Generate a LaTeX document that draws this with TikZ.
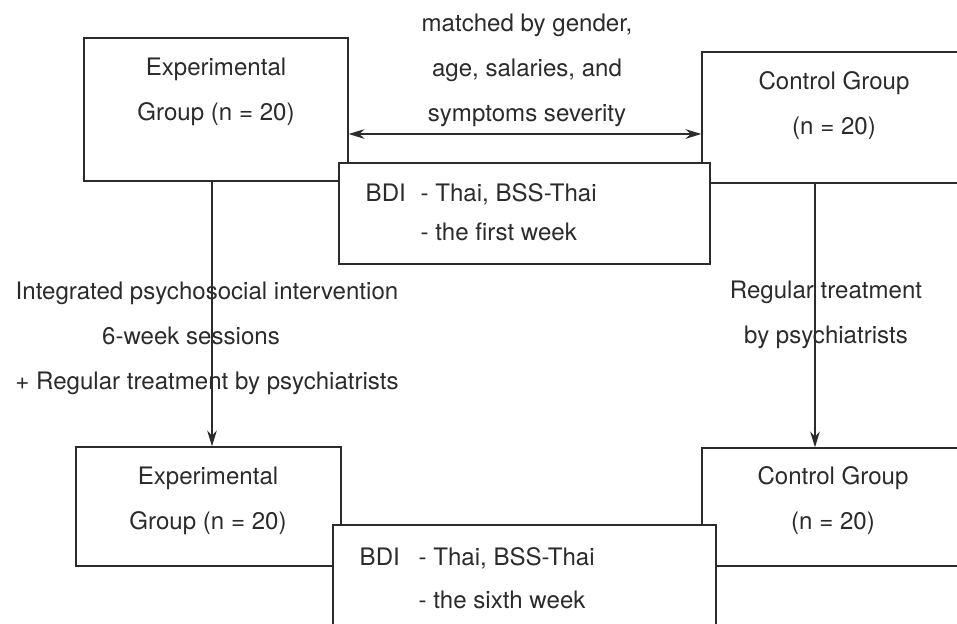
\documentclass[tikz,border=0pt]{standalone}
\usepackage{fontspec}
\setmainfont{TeX Gyre Heros}
\usetikzlibrary{arrows.meta}
\definecolor{ink}{HTML}{2B2B2B}

\begin{document}
\begin{tikzpicture}[x = 0.02cm, y = -0.02cm, > = {Stealth[length = 9pt, width = 5.5pt]}, line width = 0.8pt, color = ink,
	font = \fontsize{13.7}{25.6}\selectfont,
	group/.style = {draw, minimum width = 5.28cm, inner sep = 0pt},
	bdi/.style = {draw, fill = white, inner sep = 0pt},
	label/.style = {align = center, inner sep = 0pt},
	bdilist/.style = {align = left, anchor = west, inner sep = 0pt, font = \fontsize{13.7}{#1}\selectfont}]

	% Frame

	\useasboundingbox (0, 0) rectangle (957, 623);
	\clip (0, 0) rectangle (957, 623);

	% Group boxes

	\node [group, minimum height = 2.86cm] (expTop) at (216, 109.5) {};
	\node [group, minimum height = 2.62cm] (ctrlTop) at (834, 117.5) {};
	\node [group, minimum width = 5.3cm, minimum height = 2.38cm] (expBot) at (208.5, 506.5) {};
	\node [group, minimum height = 2.36cm] (ctrlBot) at (834, 507) {};

	\node [label] (expTopTxt) at (216, 92) {Experimental\\Group (n = 20)};
	\node [label] (ctrlTopTxt) at (834, 105.5) {Control Group\\(n = 20)};
	\node [label] (expBotTxt) at (208, 500.5) {Experimental\\Group (n = 20)};
	\node [label] (ctrlBotTxt) at (833, 500.5) {Control Group\\(n = 20)};

	% Matching and treatment paths

	\coordinate (expX) at (212, 0);
	\coordinate (ctrlX) at (815, 0);
	\coordinate (matchY) at (0, 134);

	\node [label] (matchTxt) at (527, 70) {matched by gender,\\age, salaries, and\\symptoms severity};
	\draw [<->] (expTop.east |- matchY) -- (ctrlTop.west |- matchY);

	\node [label] (expPath) at (207, 338) {Integrated psychosocial intervention\\6-week sessions\kern0.64cm\\+ Regular treatment by psychiatrists};
	\node [label] (ctrlPath) at (826, 315) {Regular treatment\\by psychiatrists};

	\draw [->] (expTop.south -| expX) -- (expBot.north -| expX);
	\draw [->] (ctrlTop.south -| ctrlX) -- (ctrlBot.north -| ctrlX);

	% BDI measurements

	\node [bdi, minimum width = 7.42cm, minimum height = 2.02cm] (bdiTop) at (524.5, 213.5) {};
	\node [bdilist = 22pt] (bdiTopTxt) at (365, 212.5) {\makebox[1.1cm][l]{BDI}- Thai, BSS-Thai\\\hspace*{1.1cm}- the first week};

	\node [bdi, minimum width = 7.66cm, minimum height = 2.14cm] (bdiBot) at (524.5, 578.5) {};
	\node [bdilist = 24.5pt] (bdiBotTxt) at (359, 578.5) {\makebox[1.18cm][l]{BDI}- Thai, BSS-Thai\\\hspace*{1.18cm}- the sixth week};

\end{tikzpicture}
\end{document}
